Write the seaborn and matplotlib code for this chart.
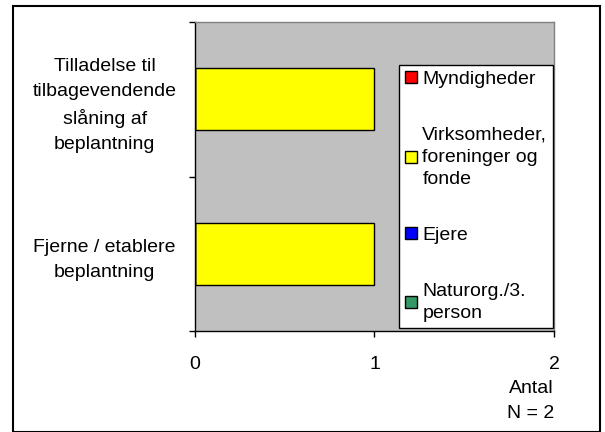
import numpy as np
import pandas as pd
import matplotlib
matplotlib.use('Agg')
import matplotlib.pyplot as plt
import matplotlib.patches as mpatches
import seaborn as sns

# Data
categories = ['Tilladelse til\ntilbagevendende\nslåning af\nbeplantning',
              'Fjerne / etablere\nbeplantning']
series_names = ['Myndigheder', 'Virksomheder,\nforeninger og\nfonde', 'Ejere', 'Naturorg./3.\nperson']
myndigheder = [0, 0]
virksomheder = [1, 1]
ejere = [0, 0]
naturorg = [0, 0]
colors = ['#FF0000', '#FFFF00', '#0000FF', '#339966']
x_ticks = [0, 1, 2]

sns.set_theme(style='white')
FS = 14
plt.rcParams['font.family'] = ['Liberation Sans', 'DejaVu Sans']
plt.rcParams.update({'font.size': FS, 'xtick.labelsize': FS, 'ytick.labelsize': FS,
                     'axes.labelsize': FS, 'legend.fontsize': FS,
                     'text.color': 'black', 'axes.labelcolor': 'black',
                     'xtick.color': 'black', 'ytick.color': 'black'})

# Long-format table for seaborn
df = pd.DataFrame({
    'Kategori': categories * 4,
    'Serie': np.repeat(series_names, len(categories)),
    'Antal': myndigheder + virksomheder + ejere + naturorg,
})

fig = plt.figure(figsize=(6.05, 4.32), dpi=100)
ax = fig.add_axes([195 / 605, 1 - 331 / 432, (554 - 195) / 605, (331 - 22) / 432])
ax.set_facecolor('#C0C0C0')

sns.barplot(data=df, x='Antal', y='Kategori', hue='Serie', hue_order=series_names,
            order=categories, palette=colors, saturation=1, dodge=False, width=0.4,
            edgecolor='black', linewidth=1, orient='h', legend=False, ax=ax)

ax.set_xlim(0, 2)
ax.set_ylim(1.5, -0.5)
ax.set_xticks(x_ticks)
ax.set_xticklabels([str(t) for t in x_ticks])
ax.set_yticks(range(len(categories)))
ax.set_yticklabels(categories, ha='center', multialignment='center', linespacing=1.62)
ax.set_yticks([-0.5, 0.5, 1.5], minor=True)
ax.tick_params(axis='y', which='major', length=0, pad=65)
ax.tick_params(axis='y', which='minor', left=True, length=4, width=1, color='black')
ax.tick_params(axis='x', bottom=True, length=4, width=1, color='black', pad=14)
ax.set_ylabel('')
ax.set_xlabel('Antal\nN = 2', loc='right', labelpad=5, linespacing=1.62)
ax.grid(False)

for side in ['left', 'bottom']:
    ax.spines[side].set_color('black')
    ax.spines[side].set_linewidth(1)
for side in ['top', 'right']:
    ax.spines[side].set_color('#808080')
    ax.spines[side].set_linewidth(1)

# Legend
handles = [mpatches.Patch(facecolor=c, edgecolor='black', linewidth=1) for c in colors]
leg = ax.legend(handles, series_names, loc='upper left',
                bbox_to_anchor=(399 / 605, 1 - 65 / 432), bbox_transform=fig.transFigure,
                frameon=True, fancybox=False, framealpha=1, edgecolor='black',
                handlelength=0.6, handleheight=0.6, handletextpad=0.3,
                labelspacing=2.0, borderpad=0.3, borderaxespad=0)
leg.get_frame().set_linewidth(1)
for t in leg.get_texts():
    t.set_linespacing(1.4)

# Outer frame of the chart
fig.patches.append(mpatches.Rectangle((13 / 605, 0), 587 / 605, 1 - 6 / 432,
                                      transform=fig.transFigure, fill=False,
                                      edgecolor='black', linewidth=1.5))

fig.savefig('out.png', dpi=100)
